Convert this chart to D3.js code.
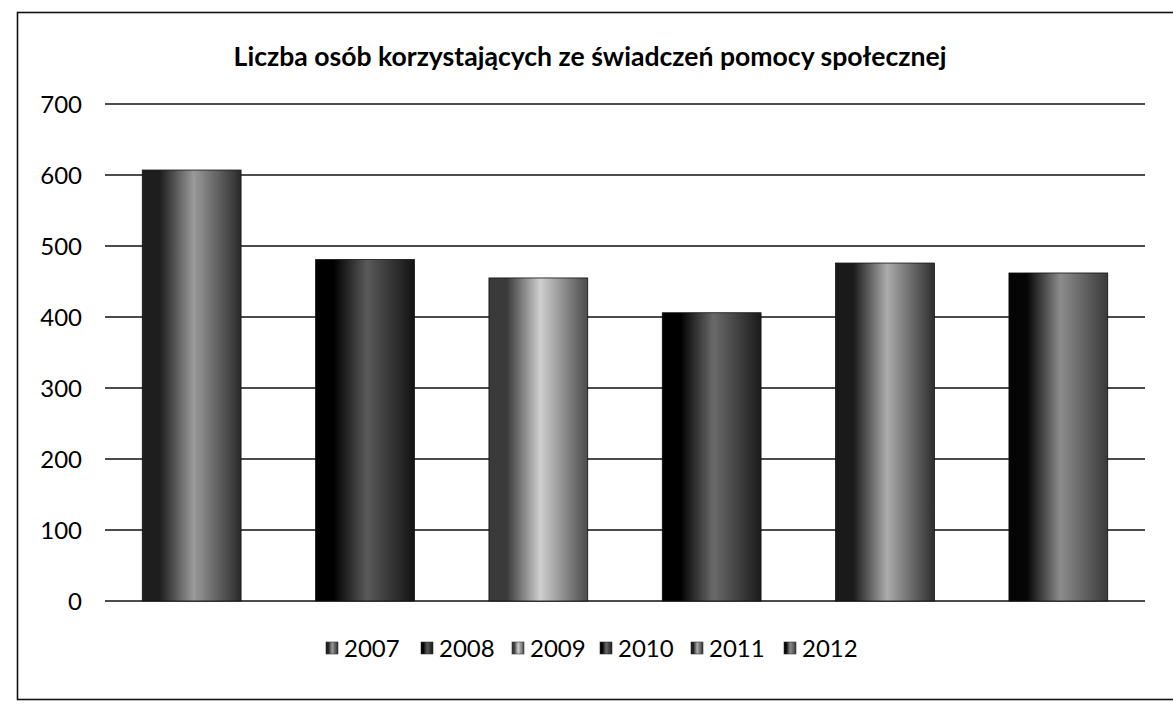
<!DOCTYPE html>
<html>
<head>
<meta charset="utf-8">
<script src="https://cdn.jsdelivr.net/npm/d3@7"></script>
<style>
  html, body { margin: 0; padding: 0; background: #fff; }
  svg { display: block; }
</style>
</head>
<body>
<svg id="chart" width="1173" height="704"></svg>
<script>
const title = "Liczba osób korzystających ze świadczeń pomocy społecznej";
const years = ["2007", "2008", "2009", "2010", "2011", "2012"];
const values = [607, 481, 455, 406, 476, 462];
const yTicks = [0, 100, 200, 300, 400, 500, 600, 700];
// gradient stops per series (left, centre, right)
const shades = [
  ["#1e1e1e", "#9a9a9a", "#2a2a2a"],
  ["#000000", "#5a5a5a", "#121212"],
  ["#3a3a3a", "#d0d0d0", "#4a4a4a"],
  ["#000000", "#6a6a6a", "#1a1a1a"],
  ["#1a1a1a", "#acacac", "#2e2e2e"],
  ["#050505", "#8c8c8c", "#3a3a3a"]
];

const svg = d3.select("#chart");
const W = 1173, H = 704;
const plot = { left: 105, right: 1145, top: 104, bottom: 601 };

const defs = svg.append("defs");
shades.forEach((s, i) => {
  const g = defs.append("linearGradient").attr("id", "g" + i)
    .attr("x1", "0%").attr("x2", "100%").attr("y1", "0%").attr("y2", "0%");
  g.append("stop").attr("offset", "0%").attr("stop-color", s[0]);
  g.append("stop").attr("offset", "18%").attr("stop-color", s[0]);
  g.append("stop").attr("offset", "52%").attr("stop-color", s[1]);
  g.append("stop").attr("offset", "100%").attr("stop-color", s[2]);
});

// frame
svg.append("rect").attr("x", 17.5).attr("y", 12.5).attr("width", W - 10).attr("height", 687)
  .attr("fill", "none").attr("stroke", "#111").attr("stroke-width", 1.6);

// title
const t = svg.append("text").attr("x", 590).attr("y", 66).attr("text-anchor", "middle")
  .attr("font-family", "Lato, 'Open Sans', sans-serif").attr("font-weight", "bold")
  .attr("font-size", 20).attr("fill", "#000").text(title);
const tw = t.node().getComputedTextLength();
t.attr("font-size", 20 * 713 / tw);

const x = d3.scaleBand().domain(years).range([plot.left, plot.right])
  .paddingInner(0.43).paddingOuter(0.215);
const y = d3.scaleLinear().domain([0, 700]).range([plot.bottom, plot.top]);

// grid
svg.append("g").selectAll("line").data(yTicks).join("line")
  .attr("x1", plot.left).attr("x2", plot.right)
  .attr("y1", d => y(d)).attr("y2", d => y(d))
  .attr("stroke", "#111").attr("stroke-width", 1.6);

// y axis labels
const yAxis = d3.axisLeft(y).tickValues(yTicks).tickSize(0).tickPadding(0);
const ya = svg.append("g").attr("transform", `translate(82,0)`).call(yAxis);
ya.select(".domain").remove();
ya.selectAll("text").attr("font-family", "Lato, 'Open Sans', sans-serif").attr("font-size", 24)
  .attr("fill", "#000").attr("dy", "0.36em");

// bars
svg.append("g").selectAll("rect").data(values).join("rect")
  .attr("x", (d, i) => x(years[i]))
  .attr("y", d => y(d))
  .attr("width", x.bandwidth())
  .attr("height", d => y(0) - y(d))
  .attr("fill", (d, i) => `url(#g${i})`)
  .attr("stroke", "#111").attr("stroke-width", 0.8);

// legend
const legX = [326, 421, 512, 600, 691, 784];
const lg = svg.append("g");
years.forEach((yr, i) => {
  lg.append("rect").attr("x", legX[i]).attr("y", 642).attr("width", 12).attr("height", 12)
    .attr("fill", `url(#g${i})`).attr("stroke", "#333").attr("stroke-width", 0.6);
  lg.append("text").attr("x", legX[i] + 18).attr("y", 657)
    .attr("font-family", "Lato, 'Open Sans', sans-serif").attr("font-size", 24)
    .attr("fill", "#000").text(yr);
});
</script>
</body>
</html>
